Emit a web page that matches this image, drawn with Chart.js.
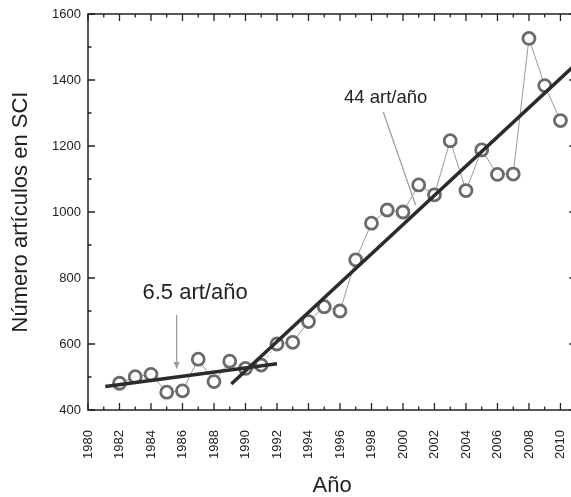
<!DOCTYPE html>
<html>
<head>
<meta charset="utf-8">
<script src="https://cdn.jsdelivr.net/npm/chart.js@4"></script>
<style>
  html, body { margin: 0; padding: 0; background: #fff; overflow: hidden; }
  #wrap { width: 585px; height: 497px; }
</style>
</head>
<body>
<div id="wrap"><canvas id="myChart" width="585" height="497"></canvas></div>
<script>
    // articles per year (SCI)
    let years = [1982, 1983, 1984, 1985, 1986, 1987, 1988, 1989, 1990, 1991,
                 1992, 1993, 1994, 1995, 1996, 1997, 1998, 1999, 2000, 2001,
                 2002, 2003, 2004, 2005, 2006, 2007, 2008, 2009, 2010];
    let articles = [481, 501, 508, 454, 458, 554, 486, 548, 526, 536,
                    600, 605, 668, 713, 700, 855, 966, 1006, 1000, 1082,
                    1052, 1216, 1065, 1188, 1114, 1115, 1526, 1383, 1277];

    // fitted trends
    let fitEarlyX = [1981.1, 1992.0];
    let fitEarlyY = [471, 540];
    let fitLateX = [1989.1, 2011];
    let fitLateY = [479, 1449];

    let xLimits = [1980, 2011];
    let yLimits = [400, 1600];
    let yStep = 200;
    let xStep = 2;

    let labelEarly = '6.5 art/año';
    let labelLate = '44 art/año';

    function toPoints(xs, ys) {
        return xs.map((x, i) => ({x: x, y: ys[i]}));
    }

    const ink = '#222';

    let framePlugin = {
        id: 'frame',
        beforeDatasetsDraw(chart) {
            let ctx = chart.ctx;
            let a = chart.chartArea;
            let xs = chart.scales.x, ys = chart.scales.y;
            ctx.save();
            ctx.strokeStyle = ink;
            ctx.lineWidth = 1.5;
            ctx.strokeRect(a.left, a.top, a.right - a.left, a.bottom - a.top);
            ctx.lineWidth = 1.3;
            ctx.beginPath();
            for (let yr = xLimits[0]; yr <= xLimits[1]; yr++) {
                let px = xs.getPixelForValue(yr);
                let len = (yr % 2 === 0) ? 7 : 3.5;
                ctx.moveTo(px, a.bottom); ctx.lineTo(px, a.bottom - len);
                ctx.moveTo(px, a.top); ctx.lineTo(px, a.top + len);
            }
            for (let v = yLimits[0]; v <= yLimits[1]; v += yStep / 2) {
                let py = ys.getPixelForValue(v);
                let len = (v % yStep === 0) ? 7 : 3.5;
                ctx.moveTo(a.left, py); ctx.lineTo(a.left + len, py);
                ctx.moveTo(a.right, py); ctx.lineTo(a.right - len, py);
            }
            ctx.stroke();
            ctx.restore();
        },
        afterDatasetsDraw(chart) {
            let ctx = chart.ctx;
            let xs = chart.scales.x, ys = chart.scales.y;
            ctx.save();
            ctx.fillStyle = ink;
            ctx.textAlign = 'center';
            ctx.textBaseline = 'middle';

            // 44 art/año
            ctx.font = '18.5px "Liberation Sans", Arial, sans-serif';
            ctx.fillText(labelLate, xs.getPixelForValue(1998.9), ys.getPixelForValue(1345));
            ctx.strokeStyle = '#9a9a9a';
            ctx.lineWidth = 1.2;
            ctx.beginPath();
            ctx.moveTo(xs.getPixelForValue(1998.75), ys.getPixelForValue(1303));
            ctx.lineTo(xs.getPixelForValue(2000.8), ys.getPixelForValue(1021));
            ctx.stroke();

            // 6.5 art/año
            ctx.font = '22px "Liberation Sans", Arial, sans-serif';
            ctx.fillText(labelEarly, xs.getPixelForValue(1986.8), ys.getPixelForValue(754));
            let ax = xs.getPixelForValue(1985.63);
            let ay0 = ys.getPixelForValue(688), ay1 = ys.getPixelForValue(527);
            ctx.beginPath();
            ctx.moveTo(ax, ay0);
            ctx.lineTo(ax, ay1);
            ctx.stroke();
            ctx.fillStyle = '#9a9a9a';
            ctx.beginPath();
            ctx.moveTo(ax - 3, ay1 - 6);
            ctx.lineTo(ax + 3, ay1 - 6);
            ctx.lineTo(ax, ay1 + 1);
            ctx.closePath();
            ctx.fill();
            ctx.restore();
        }
    };

    let ctx = document.getElementById('myChart').getContext('2d');
    Chart.defaults.font.family = '"Liberation Sans", Arial, sans-serif';
    Chart.defaults.color = ink;

    let myChart = new Chart(ctx, {
        type: 'scatter',
        data: {
            datasets: [{
                label: 'fit 1981-1992',
                data: toPoints(fitEarlyX, fitEarlyY),
                showLine: true,
                borderColor: '#2b2b2b',
                borderWidth: 3.5,
                pointRadius: 0,
                order: 0
            }, {
                label: 'fit 1989-2011',
                data: toPoints(fitLateX, fitLateY),
                showLine: true,
                borderColor: '#2b2b2b',
                borderWidth: 3.5,
                pointRadius: 0,
                order: 1
            }, {
                label: 'Artículos',
                data: toPoints(years, articles),
                showLine: true,
                borderColor: '#9a9a9a',
                borderWidth: 1,
                segment: {
                    borderDash: c => (c.p0.parsed.x === 1991 || c.p0.parsed.x === 1989) ? [2, 3] : undefined
                },
                pointRadius: 6,
                pointBorderWidth: 2.8,
                pointBorderColor: '#6a6a6a',
                pointBackgroundColor: 'rgba(255,255,255,0.85)',
                pointStyle: 'circle',
                order: 2
            }]
        },
        options: {
            responsive: false,
            animation: false,
            events: [],
            layout: { padding: { top: 14, right: 6, left: 0, bottom: 0 } },
            plugins: {
                legend: { display: false },
                tooltip: { enabled: false }
            },
            scales: {
                x: {
                    type: 'linear',
                    min: xLimits[0],
                    max: xLimits[1],
                    grid: { display: false, drawTicks: false },
                    border: { display: false },
                    afterBuildTicks: s => { s.ticks = s.ticks.filter(t => t.value % xStep === 0); },
                    afterFit: s => { s.height = 87; s.paddingLeft = 0; s.paddingRight = 0; },
                    ticks: {
                        stepSize: xStep,
                        minRotation: 90,
                        maxRotation: 90,
                        padding: 20,
                        font: { size: 13 },
                        callback: v => String(v)
                    },
                    title: {
                        display: true,
                        text: 'Año',
                        font: { size: 22, lineHeight: 1 },
                        padding: 0
                    }
                },
                y: {
                    type: 'linear',
                    min: yLimits[0],
                    max: yLimits[1],
                    grid: { display: false, drawTicks: false },
                    border: { display: false },
                    afterFit: s => { s.width = 88; s.paddingTop = 0; s.paddingBottom = 0; },
                    ticks: {
                        stepSize: yStep,
                        padding: 7,
                        font: { size: 13 },
                        callback: v => String(v)
                    },
                    title: {
                        display: true,
                        text: 'Número artículos en SCI',
                        font: { size: 22, lineHeight: 1.2 },
                        padding: { top: 8, bottom: 0 }
                    }
                }
            }
        },
        plugins: [framePlugin]
    });
</script>
</body>
</html>
